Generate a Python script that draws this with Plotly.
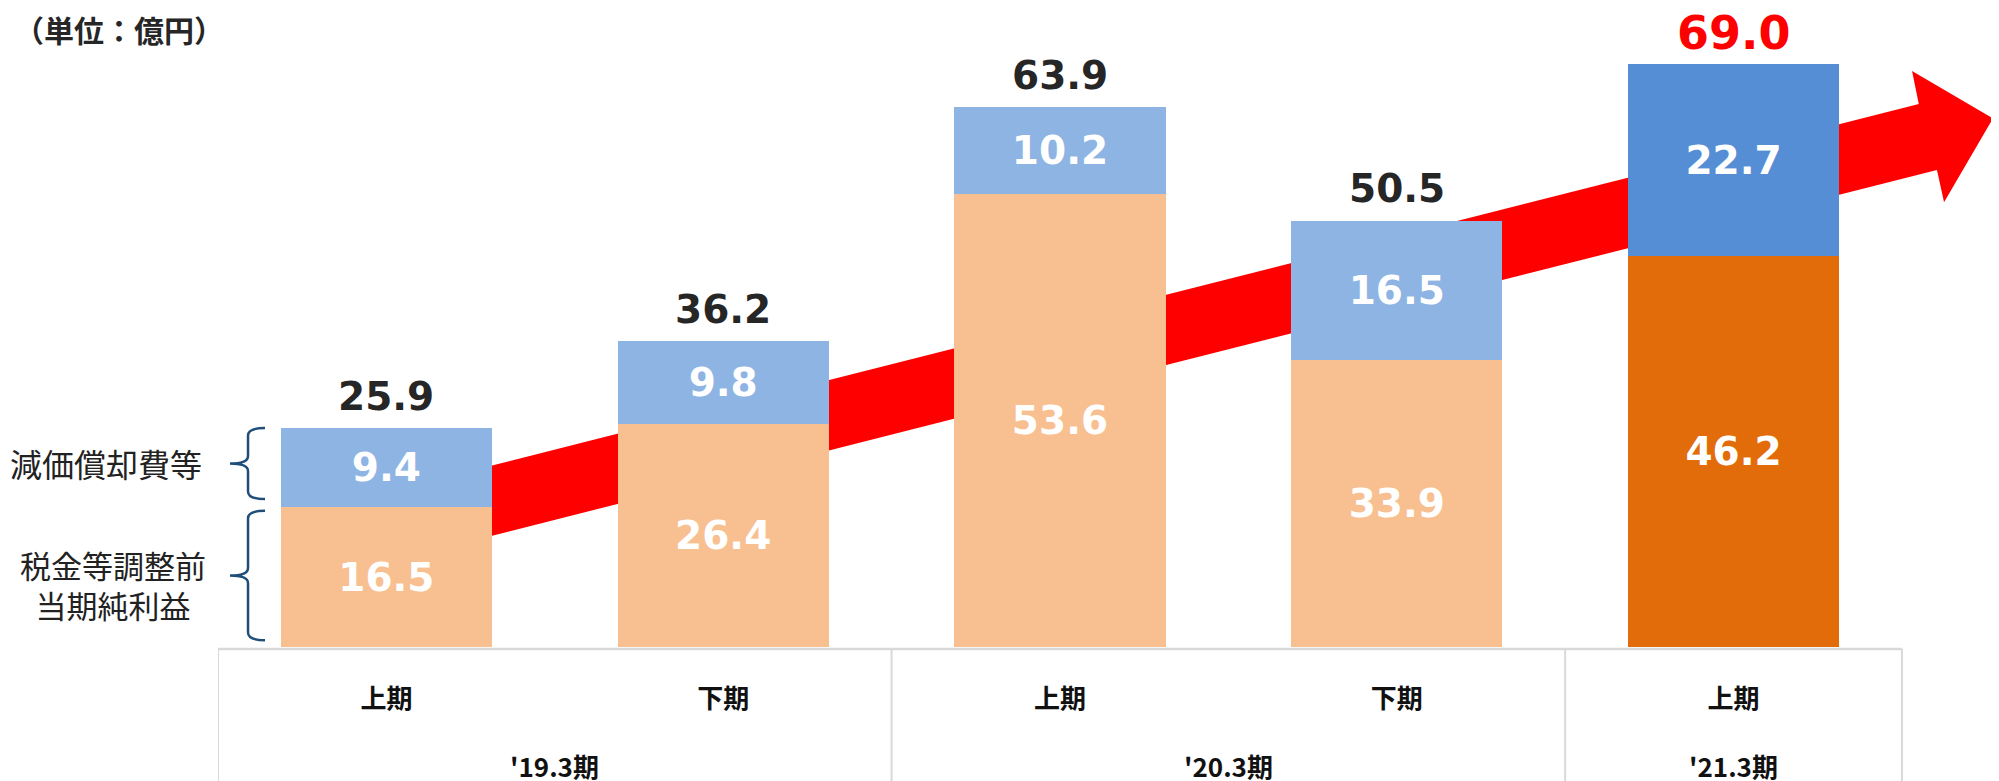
import plotly.graph_objects as go

## DATA

half_labels = ["上期", "下期", "上期", "下期", "上期"]
period_labels = ["'19.3期", "'20.3期", "'21.3期"]
period_centers = [0.5, 2.5, 4]

profit_before_tax = [16.5, 26.4, 53.6, 33.9, 46.2]
depreciation = [9.4, 9.8, 10.2, 16.5, 22.7]
totals = [25.9, 36.2, 63.9, 50.5, 69.0]

# colours
profit_colors = ["#F8C090"] * 4 + ["#E36C0A"]
dep_colors = ["#8EB4E3"] * 4 + ["#558ED5"]
total_colors = ["#262626"] * 4 + ["#FF0000"]
total_sizes = [39] * 4 + [46]

num_font = "DejaVu Sans"
jp_font = "Noto Sans CJK JP"

x = list(range(len(half_labels)))

fig = go.Figure()

# stacked bars
fig.add_trace(go.Bar(
    x=x, y=profit_before_tax,
    marker=dict(color=profit_colors, line=dict(width=0)),
    text=[f"{v:.1f}" for v in profit_before_tax],
    textposition="inside", insidetextanchor="middle", textangle=0,
    textfont=dict(family=num_font, size=39, color="white", weight="bold"),
    width=0.627,
))
fig.add_trace(go.Bar(
    x=x, y=depreciation,
    marker=dict(color=dep_colors, line=dict(width=0)),
    text=[f"{v:.1f}" for v in depreciation],
    textposition="inside", insidetextanchor="middle", textangle=0,
    textfont=dict(family=num_font, size=39, color="white", weight="bold"),
    width=0.627,
))

# totals above bars
for xi, tot, col, size in zip(x, totals, total_colors, total_sizes):
    fig.add_annotation(x=xi, y=tot, text=f"{tot:.1f}", showarrow=False,
                       xanchor="center", yanchor="middle", yshift=31 if size < 40 else 30,
                       font=dict(family=num_font, size=size, color=col, weight="bold"))

# red growth arrow (behind the bars)
arrow = [(0.04, 18.7), (4.55, 64.2), (4.53, 68.1), (4.77, 62.5),
         (4.625, 52.6), (4.604, 56.4), (0.04, 10.4)]
arrow_path = "M " + " L ".join(f"{ax},{ay}" for ax, ay in arrow) + " Z"
fig.add_shape(type="path", path=arrow_path, xref="x", yref="y",
              fillcolor="#FF0000", line=dict(width=0), layer="below")


# curly braces on the left of the first bar
def brace(y_top, y_bot, x_tip=0.0067, x_mid=0.0168, x_end=0.0263, d=0.9):
    y_c = (y_top + y_bot) / 2
    return (f"M {x_end},{y_top} Q {x_mid},{y_top} {x_mid},{y_top - d} "
            f"L {x_mid},{y_c + d} Q {x_mid},{y_c} {x_tip},{y_c} "
            f"Q {x_mid},{y_c} {x_mid},{y_c - d} "
            f"L {x_mid},{y_bot + d} Q {x_mid},{y_bot} {x_end},{y_bot}")


brace_color = "#1F4E79"
fig.add_shape(type="path", path=brace(totals[0], profit_before_tax[0] + 1.0),
              xref="paper", yref="y", line=dict(color=brace_color, width=2.5))
fig.add_shape(type="path", path=brace(profit_before_tax[0] - 0.4, 0.8),
              xref="paper", yref="y", line=dict(color=brace_color, width=2.5))

fig.add_annotation(text="減価償却費等", xref="paper", yref="y", x=-0.0625, y=21.7,
                   xanchor="center", yanchor="middle", showarrow=False,
                   font=dict(family=jp_font, size=32, color="#222222"))
fig.add_annotation(text="税金等調整前<br>当期純利益", xref="paper", yref="y", x=-0.0585, y=7.4,
                   xanchor="center", yanchor="middle", showarrow=False,
                   font=dict(family=jp_font, size=31, color="#222222"))

# unit label
fig.add_annotation(text="（単位：億円）", xref="paper", yref="paper", x=-0.0555, y=0.967,
                   xanchor="center", yanchor="middle", showarrow=False,
                   font=dict(family=jp_font, size=30, color="#262626", weight="bold"))

# table under the bars
grid = "#D9D9D9"
fig.add_shape(type="line", xref="x", yref="paper", x0=-0.5, x1=4.5, y0=-0.003, y1=-0.003,
              line=dict(color=grid, width=2.5))
for xv in [-0.5, 1.5, 3.5, 4.5]:
    fig.add_shape(type="line", xref="x", yref="paper", x0=xv, x1=xv, y0=-0.003, y1=-0.3,
                  line=dict(color=grid, width=2))

for px_, lab in zip(period_centers, period_labels):
    fig.add_annotation(text=lab, xref="x", yref="paper", x=px_, y=-0.185,
                       xanchor="center", yanchor="middle", showarrow=False,
                       font=dict(family=jp_font, size=26, color="#111111", weight="bold"))

# page body adds an 8px offset, so the plot area is placed 8px up/left
fig.update_layout(
    width=1999, height=781,
    barmode="stack",
    showlegend=False,
    plot_bgcolor="white", paper_bgcolor="white",
    margin=dict(l=210, r=2, t=0, b=142),
)
fig.update_xaxes(range=[-0.5, 4.806], tickvals=x, ticktext=half_labels,
                 ticks="", showgrid=False, showline=False, zeroline=False,
                 ticklabelstandoff=34,
                 tickfont=dict(family=jp_font, size=26, color="#111111", weight="bold"))
fig.update_yaxes(range=[0, 75.56], visible=False, showgrid=False, zeroline=False)

fig.write_html("out.html")
